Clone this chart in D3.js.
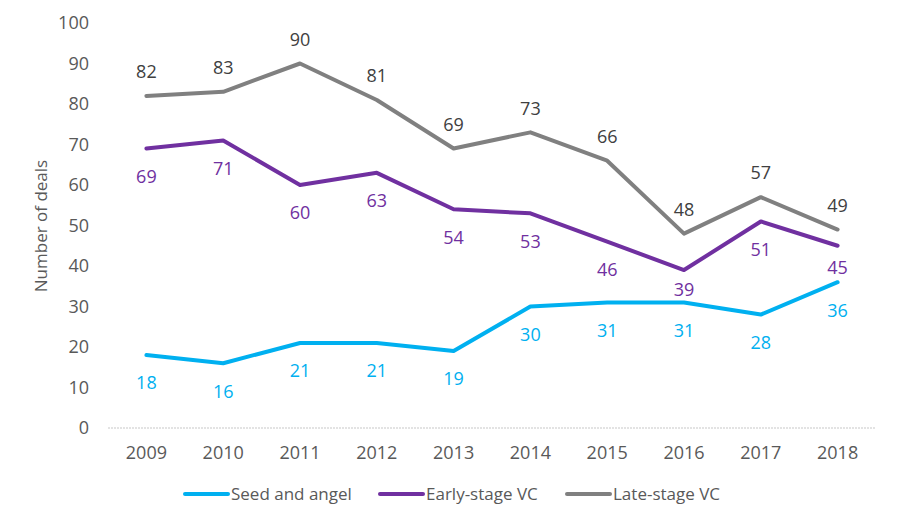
<!DOCTYPE html>
<html><head><meta charset="utf-8">
<script src="https://cdn.jsdelivr.net/npm/d3@7"></script>
<style>body{margin:0;background:#fff}text{font-family:"Open Sans",sans-serif}</style>
</head><body><svg id="c" width="900" height="525"></svg>
<script>
const years = ["2009","2010","2011","2012","2013","2014","2015","2016","2017","2018"];
const seedAngel = [18,16,21,21,19,30,31,31,28,36];
const earlyVC = [69,71,60,63,54,53,46,39,51,45];
const lateVC = [82,83,90,81,69,73,66,48,57,49];
const yTicks = [0,10,20,30,40,50,60,70,80,90,100];
const seriesNames = ["Seed and angel","Early-stage VC","Late-stage VC"];

const svg = d3.select("#c");
const x = d3.scalePoint().domain(years).range([108,876]).padding(0.5);
const y = d3.scaleLinear().domain([0,100]).range([428,23]);

svg.append("line").attr("x1",108).attr("x2",876).attr("y1",y(0)).attr("y2",y(0))
  .attr("stroke","#c8c8c8").attr("stroke-width",1.2).attr("stroke-dasharray","2,1");

svg.append("g").selectAll("text").data(yTicks).join("text")
  .attr("x",89).attr("y",d=>y(d)).attr("dy","0.35em").attr("text-anchor","end")
  .attr("font-size",18).attr("fill","#595959").text(d=>d);
svg.append("g").selectAll("text").data(years).join("text")
  .attr("x",d=>x(d)).attr("y",453).attr("dy","0.35em").attr("text-anchor","middle")
  .attr("font-size",18).attr("fill","#595959").text(d=>d);

svg.append("text").attr("transform","translate(41,226) rotate(-90)").attr("text-anchor","middle")
  .attr("dy","0.35em").attr("font-size",17).attr("fill","#595959").text("Number of deals");

const series = [
  {name:seriesNames[0], vals:seedAngel, color:"#00b0f0", lab:"#00b0f0", off:i=>28},
  {name:seriesNames[1], vals:earlyVC, color:"#7030a0", lab:"#7030a0",
     off:i=>Math.min(28, (y(seedAngel[i])-y(earlyVC[i]))*0.6)},
  {name:seriesNames[2], vals:lateVC, color:"#808080", lab:"#404040", off:i=>-24}
];
const line = d3.line().x((d,i)=>x(years[i])).y(d=>y(d));
series.forEach(s=>{
  svg.append("path").datum(s.vals).attr("d",line).attr("fill","none")
    .attr("stroke",s.color).attr("stroke-width",4).attr("stroke-linejoin","round").attr("stroke-linecap","round");
});
series.forEach(s=>{
  svg.append("g").selectAll("text").data(s.vals).join("text")
    .attr("x",(d,i)=>x(years[i])).attr("y",(d,i)=>y(d)+s.off(i)).attr("dy","0.35em")
    .attr("text-anchor","middle").attr("font-size",18).attr("fill",s.lab).text(d=>d);
});

const legX = [185,380,567];
series.forEach((s,i)=>{
  svg.append("line").attr("x1",legX[i]).attr("x2",legX[i]+43).attr("y1",494).attr("y2",494)
    .attr("stroke",s.color).attr("stroke-width",4).attr("stroke-linecap","round");
  svg.append("text").attr("x",legX[i]+46).attr("y",494).attr("dy","0.35em")
    .attr("font-size",17).attr("fill","#595959").text(s.name);
});
</script></body></html>
